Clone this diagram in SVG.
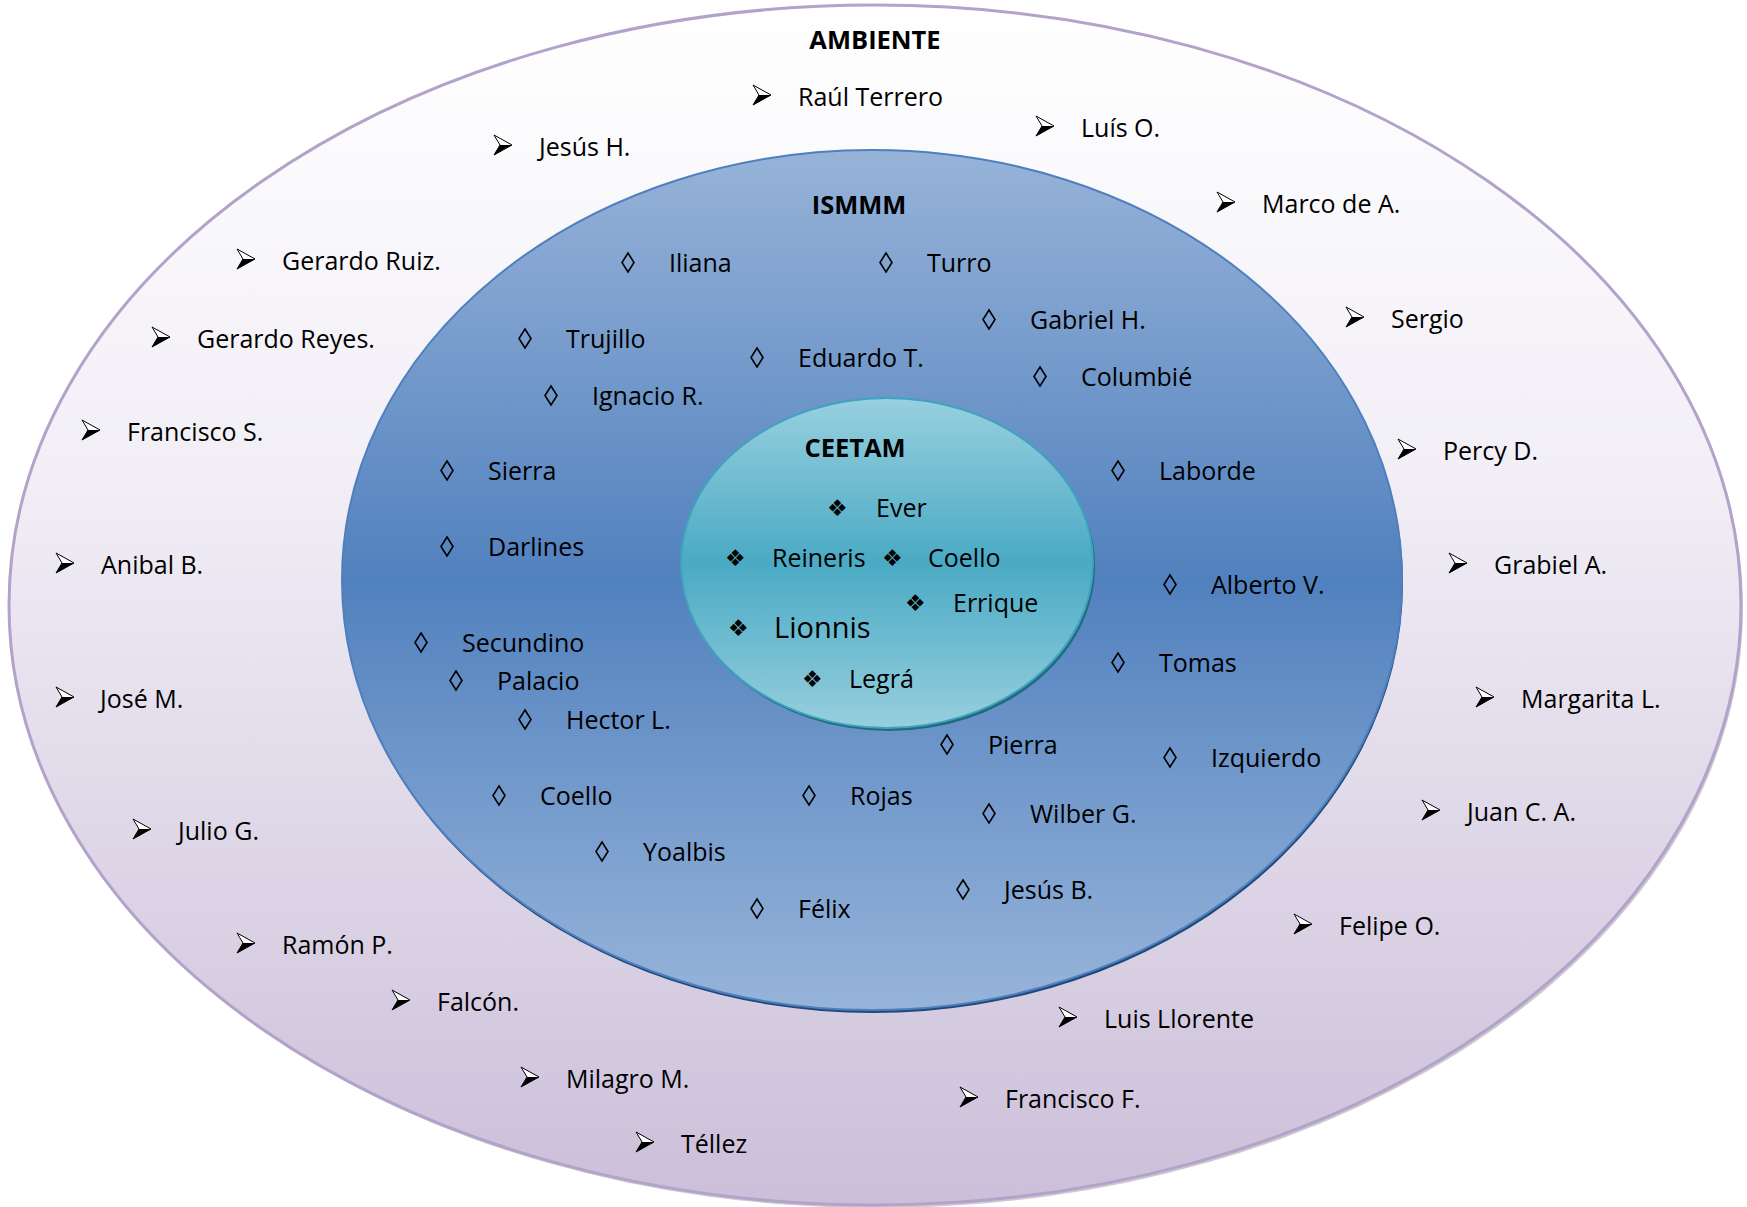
<svg xmlns="http://www.w3.org/2000/svg" xmlns:xlink="http://www.w3.org/1999/xlink" width="1747" height="1207" viewBox="0 0 1747 1207">
<defs>
<linearGradient id="gOuter" x1="0" y1="0" x2="0" y2="1">
<stop offset="0" stop-color="#ffffff"/>
<stop offset="0.4" stop-color="#f1eef6"/>
<stop offset="1" stop-color="#cbbfd9"/>
</linearGradient>
<linearGradient id="gMid" x1="0" y1="0" x2="0" y2="1">
<stop offset="0" stop-color="#97b3d8"/>
<stop offset="0.5" stop-color="#5181be"/>
<stop offset="1" stop-color="#97b4da"/>
</linearGradient>
<linearGradient id="gIn" x1="0" y1="0" x2="0" y2="1">
<stop offset="0" stop-color="#98d0df"/>
<stop offset="0.5" stop-color="#4aaac4"/>
<stop offset="1" stop-color="#97cfde"/>
</linearGradient>
<g id="arr">
<polygon points="0,0 18,10 0,20 6,10" fill="#fff" stroke="#000" stroke-width="1" stroke-linejoin="miter"/>
<polygon points="6,10 18,10 0,20" fill="#000"/>
</g>
<g id="dia">
<polygon points="6,0 12,9.5 6,19 0,9.5" fill="none" stroke="#000" stroke-width="1.6"/>
</g>
<style>
.t{font-family:"Open Sans","Liberation Sans",sans-serif;font-size:25px;fill:#000}
.h{font-family:"Open Sans","Liberation Sans",sans-serif;font-size:25.5px;font-weight:bold;fill:#000;text-anchor:middle}
.c{font-family:"DejaVu Sans",sans-serif;font-size:23px;fill:#000}
</style>
</defs>

<g id="ambiente">
<ellipse cx="877" cy="608" rx="866" ry="600" fill="#a9a4b2" opacity="0.6"/>
<ellipse cx="875" cy="605" rx="866" ry="600" fill="url(#gOuter)" stroke="#b3a2c9" stroke-width="3"/>
<text class="h" x="875" y="49">AMBIENTE</text>
</g>

<g id="ismmm">
<ellipse cx="873" cy="583" rx="530" ry="430" fill="#1f4a7a"/>
<ellipse cx="872" cy="580" rx="530" ry="430" fill="url(#gMid)" stroke="#4e7fbf" stroke-width="2"/>
<text class="h" x="859" y="214">ISMMM</text>
</g>

<g id="ceetam">
<ellipse cx="889" cy="566" rx="206" ry="165" fill="#216a80"/>
<ellipse cx="887" cy="563" rx="206" ry="165" fill="url(#gIn)" stroke="#3fa3bd" stroke-width="2"/>
<text class="h" x="855" y="457">CEETAM</text>
</g>

<g id="ambiente-members">
<g id="n-raul"><use xlink:href="#arr" x="753" y="85"/><text class="t" x="798" y="106">Raúl Terrero</text></g>
<g id="n-jesush"><use xlink:href="#arr" x="494" y="135"/><text class="t" x="539" y="156">Jesús H.</text></g>
<g id="n-luiso"><use xlink:href="#arr" x="1036" y="116"/><text class="t" x="1081" y="137">Luís O.</text></g>
<g id="n-marco"><use xlink:href="#arr" x="1217" y="192"/><text class="t" x="1262" y="213">Marco de A.</text></g>
<g id="n-gruiz"><use xlink:href="#arr" x="237" y="249"/><text class="t" x="282" y="270">Gerardo Ruiz.</text></g>
<g id="n-sergio"><use xlink:href="#arr" x="1346" y="307"/><text class="t" x="1391" y="328">Sergio</text></g>
<g id="n-greyes"><use xlink:href="#arr" x="152" y="327"/><text class="t" x="197" y="348">Gerardo Reyes.</text></g>
<g id="n-franciscos"><use xlink:href="#arr" x="82" y="420"/><text class="t" x="127" y="441">Francisco S.</text></g>
<g id="n-percy"><use xlink:href="#arr" x="1398" y="439"/><text class="t" x="1443" y="460">Percy D.</text></g>
<g id="n-anibal"><use xlink:href="#arr" x="56" y="553"/><text class="t" x="101" y="574">Anibal B.</text></g>
<g id="n-grabiel"><use xlink:href="#arr" x="1449" y="553"/><text class="t" x="1494" y="574">Grabiel A.</text></g>
<g id="n-jose"><use xlink:href="#arr" x="56" y="687"/><text class="t" x="100" y="708">José M.</text></g>
<g id="n-margarita"><use xlink:href="#arr" x="1476" y="687"/><text class="t" x="1521" y="708">Margarita L.</text></g>
<g id="n-julio"><use xlink:href="#arr" x="133" y="819"/><text class="t" x="178" y="840">Julio G.</text></g>
<g id="n-juan"><use xlink:href="#arr" x="1422" y="800"/><text class="t" x="1467" y="821">Juan C. A.</text></g>
<g id="n-ramon"><use xlink:href="#arr" x="237" y="933"/><text class="t" x="282" y="954">Ramón P.</text></g>
<g id="n-felipe"><use xlink:href="#arr" x="1294" y="914"/><text class="t" x="1339" y="935">Felipe O.</text></g>
<g id="n-falcon"><use xlink:href="#arr" x="392" y="990"/><text class="t" x="437" y="1011">Falcón.</text></g>
<g id="n-llorente"><use xlink:href="#arr" x="1059" y="1007"/><text class="t" x="1104" y="1028">Luis Llorente</text></g>
<g id="n-milagro"><use xlink:href="#arr" x="521" y="1067"/><text class="t" x="566" y="1088">Milagro M.</text></g>
<g id="n-franciscof"><use xlink:href="#arr" x="960" y="1087"/><text class="t" x="1005" y="1108">Francisco F.</text></g>
<g id="n-tellez"><use xlink:href="#arr" x="636" y="1132"/><text class="t" x="681" y="1153">Téllez</text></g>
</g>

<g id="ismmm-members">
<g id="m-iliana"><use xlink:href="#dia" x="622" y="253"/><text class="t" x="669" y="272">Iliana</text></g>
<g id="m-turro"><use xlink:href="#dia" x="880" y="253"/><text class="t" x="927" y="272">Turro</text></g>
<g id="m-gabriel"><use xlink:href="#dia" x="983" y="310"/><text class="t" x="1030" y="329">Gabriel H.</text></g>
<g id="m-trujillo"><use xlink:href="#dia" x="519" y="329"/><text class="t" x="566" y="348">Trujillo</text></g>
<g id="m-eduardo"><use xlink:href="#dia" x="751" y="348"/><text class="t" x="798" y="367">Eduardo T.</text></g>
<g id="m-columbie"><use xlink:href="#dia" x="1034" y="367"/><text class="t" x="1081" y="386">Columbié</text></g>
<g id="m-ignacio"><use xlink:href="#dia" x="545" y="386"/><text class="t" x="592" y="405">Ignacio R.</text></g>
<g id="m-sierra"><use xlink:href="#dia" x="441" y="461"/><text class="t" x="488" y="480">Sierra</text></g>
<g id="m-laborde"><use xlink:href="#dia" x="1112" y="461"/><text class="t" x="1159" y="480">Laborde</text></g>
<g id="m-darlines"><use xlink:href="#dia" x="441" y="537"/><text class="t" x="488" y="556">Darlines</text></g>
<g id="m-alberto"><use xlink:href="#dia" x="1164" y="575"/><text class="t" x="1211" y="594">Alberto V.</text></g>
<g id="m-secundino"><use xlink:href="#dia" x="415" y="633"/><text class="t" x="462" y="652">Secundino</text></g>
<g id="m-tomas"><use xlink:href="#dia" x="1112" y="653"/><text class="t" x="1159" y="672">Tomas</text></g>
<g id="m-palacio"><use xlink:href="#dia" x="450" y="671"/><text class="t" x="497" y="690">Palacio</text></g>
<g id="m-hector"><use xlink:href="#dia" x="519" y="710"/><text class="t" x="566" y="729">Hector L.</text></g>
<g id="m-pierra"><use xlink:href="#dia" x="941" y="735"/><text class="t" x="988" y="754">Pierra</text></g>
<g id="m-izquierdo"><use xlink:href="#dia" x="1164" y="748"/><text class="t" x="1211" y="767">Izquierdo</text></g>
<g id="m-coello"><use xlink:href="#dia" x="493" y="786"/><text class="t" x="540" y="805">Coello</text></g>
<g id="m-rojas"><use xlink:href="#dia" x="803" y="786"/><text class="t" x="850" y="805">Rojas</text></g>
<g id="m-wilber"><use xlink:href="#dia" x="983" y="804"/><text class="t" x="1030" y="823">Wilber G.</text></g>
<g id="m-yoalbis"><use xlink:href="#dia" x="596" y="842"/><text class="t" x="643" y="861">Yoalbis</text></g>
<g id="m-jesusb"><use xlink:href="#dia" x="957" y="880"/><text class="t" x="1004" y="899">Jesús B.</text></g>
<g id="m-felix"><use xlink:href="#dia" x="751" y="899"/><text class="t" x="798" y="918">Félix</text></g>
</g>

<g id="ceetam-members">
<g id="c-ever"><text class="c" x="827" y="516">❖</text><text class="t" x="876" y="517">Ever</text></g>
<g id="c-reineris"><text class="c" x="725" y="566">❖</text><text class="t" x="772" y="567">Reineris</text></g>
<g id="c-coello"><text class="c" x="882" y="566">❖</text><text class="t" x="928" y="567">Coello</text></g>
<g id="c-errique"><text class="c" x="905" y="611">❖</text><text class="t" x="953" y="612">Errique</text></g>
<g id="c-lionnis"><text class="c" x="728" y="636">❖</text><text class="t" x="774" y="638" style="font-size:29px">Lionnis</text></g>
<g id="c-legra"><text class="c" x="802" y="687">❖</text><text class="t" x="849" y="688">Legrá</text></g>
</g>
</svg>
